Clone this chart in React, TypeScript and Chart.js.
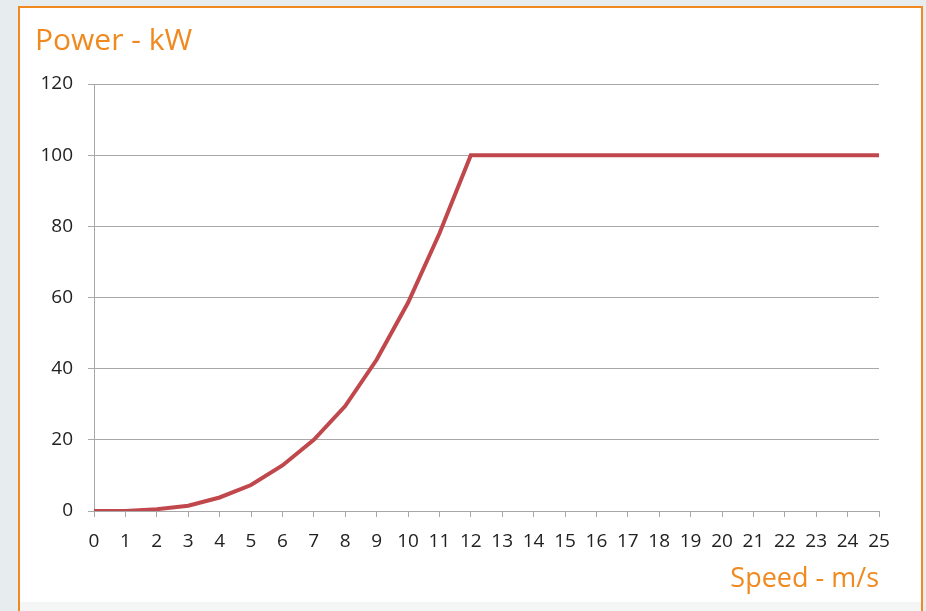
import React, { useEffect, useRef } from "react";
import { Chart, registerables } from "chart.js";

Chart.register(...registerables);

const speedLabels: string[] = [
  "0", "1", "2", "3", "4", "5", "6", "7", "8", "9", "10", "11", "12",
  "13", "14", "15", "16", "17", "18", "19", "20", "21", "22", "23", "24", "25",
];
const powerKW: number[] = [
  0, 0, 0.5, 1.5, 3.8, 7.3, 12.8, 20, 29.5, 42.5, 58.5, 78, 100,
  100, 100, 100, 100, 100, 100, 100, 100, 100, 100, 100, 100, 100,
];
const yMin = 0;
const yMax = 120;
const yStep = 20;
const titleText = "Power - kW";
const xTitleText = "Speed - m/s";

const ORANGE = "#f0891f";
const GRID = "#a8a8a8";
const LINE = "#c0474b";
const FONT = "'Open Sans', sans-serif";

export default function App() {
  const ref = useRef<HTMLCanvasElement | null>(null);

  useEffect(() => {
    if (!ref.current) return;
    const chart = new Chart(ref.current, {
      type: "line",
      data: {
        labels: speedLabels,
        datasets: [
          {
            data: powerKW,
            borderColor: LINE,
            borderWidth: 4,
            pointRadius: 0,
            tension: 0,
            fill: false,
          },
        ],
      },
      options: {
        responsive: false,
        animation: false,
        layout: { padding: { left: 15, right: 42, top: 0, bottom: 0 } },
        plugins: {
          legend: { display: false },
          tooltip: { enabled: false },
          title: {
            display: true,
            text: titleText,
            align: "start",
            color: ORANGE,
            font: { family: FONT, size: 30, weight: "normal" },
            padding: { top: 15, bottom: 25 },
          },
        },
        scales: {
          x: {
            type: "category",
            offset: false,
            grid: {
              drawOnChartArea: false,
              drawTicks: true,
              tickLength: 6,
              color: GRID,
            },
            border: { display: true, color: GRID, width: 1 },
            ticks: {
              autoSkip: false,
              maxRotation: 0,
              padding: 13,
              color: "#222222",
              font: { family: FONT, size: 19 },
            },
            title: {
              display: true,
              text: xTitleText,
              align: "end",
              color: ORANGE,
              font: { family: FONT, size: 27, weight: "normal" },
              padding: { top: 0, bottom: 6 },
            },
            afterFit: (scale: any) => {
              scale.height = 91;
            },
          },
          y: {
            min: yMin,
            max: yMax,
            ticks: {
              stepSize: yStep,
              padding: 15,
              color: "#222222",
              font: { family: FONT, size: 19 },
            },
            grid: { color: GRID, tickLength: 6, lineWidth: 1 },
            border: { display: true, color: GRID, width: 1 },
            afterFit: (scale: any) => {
              scale.width = 59;
            },
          },
        },
      },
    });
    return () => chart.destroy();
  }, []);

  return (
    <div
      style={{
        position: "fixed",
        left: 0,
        top: 0,
        width: 926,
        height: 611,
        background: "#e7edef",
        overflow: "hidden",
      }}
    >
      <div
        style={{
          position: "absolute",
          left: 18,
          top: 6,
          width: 901,
          height: 700,
          border: `2px solid ${ORANGE}`,
          background: "#ffffff",
        }}
      >
        <canvas
          ref={ref}
          width={901}
          height={594}
          style={{ position: "absolute", left: 0, top: 0, width: 901, height: 594 }}
        />
        <div
          style={{
            position: "absolute",
            left: 0,
            top: 594,
            width: 901,
            height: 200,
            background: "#f4f6f6",
          }}
        />
      </div>
    </div>
  );
}
